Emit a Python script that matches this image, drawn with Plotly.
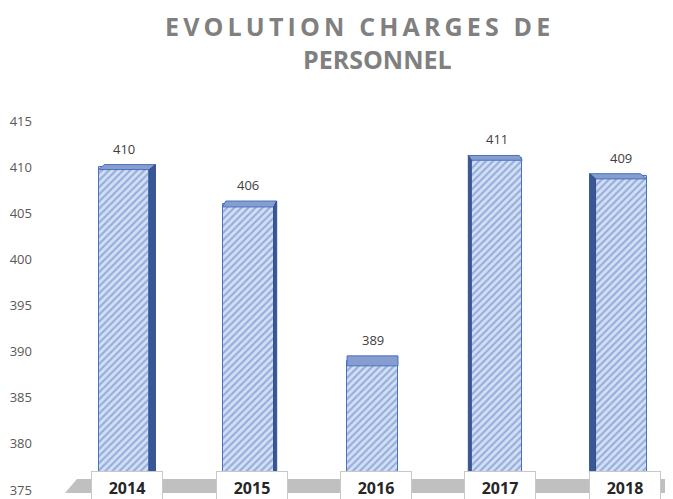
import plotly.graph_objects as go

# ---- data ----
years = ["2014", "2015", "2016", "2017", "2018"]
values = [410, 406, 389, 411, 409]
y_ticks = [375, 380, 385, 390, 395, 400, 405, 410, 415]
title_line1 = "EVOLUTION CHARGES DE"
title_line2 = "PERSONNEL"

# ---- geometry / style ----
PX_PER_Y = 9.275
BAR_W = 0.41
FONT = "Open Sans"
x = list(range(len(years)))
mid = (len(years) - 1) / 2


def spaced(s, sep="\u2009"):
    return sep.join(s)


fig = go.Figure()
fig.add_trace(go.Bar(
    x=x, y=values, width=BAR_W,
    marker=dict(
        color="#d3dff4",
        pattern=dict(shape="/", fgcolor="#5a7cc6", bgcolor="#d3dff4", size=5, solidity=0.42),
        line=dict(color="#4a72c0", width=1),
    ),
    hoverinfo="skip", showlegend=False,
))

shapes = []
# floor band
shapes.append(dict(
    type="path", xref="x", yref="y", layer="below",
    path="M -0.475,374.68 L -0.378,376.19 L 4.6,376.19 L 4.6,374.68 Z",
    fillcolor="#c0c0c0", line=dict(width=0),
))

annotations = []
for i, v in enumerate(values):
    t_px = 3.8 + 0.24 * (415 - v)
    t = t_px / PX_PER_Y
    yf, yb = v - t / 2, v + t / 2
    dx = 0.024 * (mid - i)
    x0, x1 = i - BAR_W / 2, i + BAR_W / 2
    # top face
    shapes.append(dict(
        type="path", xref="x", yref="y", layer="above",
        path=f"M {x0},{yf} L {x1},{yf} L {x1+dx},{yb} L {x0+dx},{yb} Z",
        fillcolor="#869dd0", line=dict(color="#4a72c0", width=1),
    ))
    # side face
    if dx > 0:
        p = f"M {x1},374 L {x1},{yf} L {x1+dx},{yb} L {x1+dx},374 Z"
    elif dx < 0:
        p = f"M {x0},374 L {x0},{yf} L {x0+dx},{yb} L {x0+dx},374 Z"
    else:
        p = None
    if p:
        shapes.append(dict(
            type="path", xref="x", yref="y", layer="above", path=p,
            fillcolor="#3a5694", line=dict(color="#34508c", width=1),
        ))
    # value label
    annotations.append(dict(
        x=i, y=v, xref="x", yref="y", yanchor="bottom", yshift=t_px / 2 + 5,
        text=str(v), showarrow=False,
        font=dict(family=FONT, size=13, color="#404040"),
    ))
    # year box
    annotations.append(dict(
        x=i, y=375.2, xref="x", yref="y", xshift=3.5,
        text=f"<b>{years[i]}</b>", showarrow=False,
        width=70, height=32, bgcolor="white", bordercolor="#c8c8c8", borderwidth=1,
        borderpad=0, valign="middle",
        font=dict(family=FONT, size=16, color="#262626"),
    ))

# title lines
annotations.append(dict(
    x=0.5055, y=1.216, xref="paper", yref="paper", yanchor="middle",
    text=f"<b>{spaced(title_line1)}</b>", showarrow=False,
    font=dict(family=FONT, size=25, color="#808080"),
))
annotations.append(dict(
    x=0.537, y=1.131, xref="paper", yref="paper", yanchor="middle",
    text=f"<b>{title_line2}</b>", showarrow=False,
    font=dict(family=FONT, size=25, color="#808080"),
))

# the page body keeps its default 8px margin, so the figure is sized to fit
fig.update_layout(
    width=665, height=491,
    margin=dict(l=27, r=1, t=102, b=0),
    paper_bgcolor="white", plot_bgcolor="white",
    shapes=shapes, annotations=annotations,
    xaxis=dict(range=[-0.716, 4.41], showticklabels=False, showgrid=False,
               zeroline=False, showline=False, ticks=""),
    yaxis=dict(range=[374.245, 416.186], tickvals=y_ticks, showgrid=False,
               zeroline=False, showline=False, ticks="", ticklabelstandoff=2,
               ticklabeloverflow="allow",
               tickfont=dict(family=FONT, size=13, color="#595959")),
    bargap=0,
)

fig.write_html("out.html")
